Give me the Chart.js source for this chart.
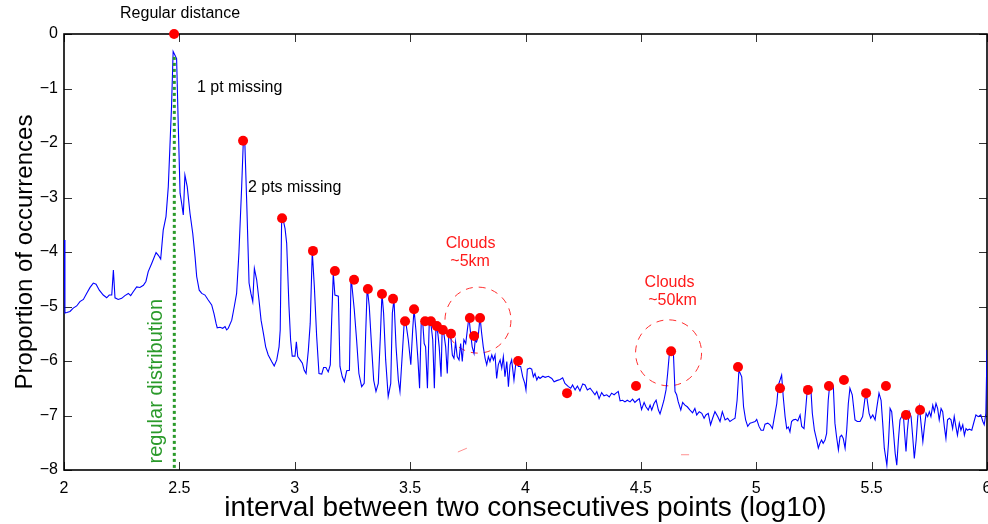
<!DOCTYPE html>
<html><head><meta charset="utf-8">
<script src="https://cdn.jsdelivr.net/npm/chart.js@4.4.0/dist/chart.umd.min.js"></script>
<style>html,body{margin:0;padding:0;background:#fff;}</style>
</head><body>
<canvas id="c" width="988" height="524"></canvas>
<script>
// ---- data ----
const xs = [2.000,2.004,2.012,2.026,2.040,2.055,2.069,2.084,2.098,2.113,2.127,2.139,2.153,2.170,2.185,2.196,2.207,2.214,2.221,2.235,2.250,2.264,2.279,2.289,2.300,2.315,2.329,2.344,2.355,2.365,2.380,2.399,2.409,2.419,2.430,2.442,2.452,2.459,2.466,2.473,2.481,2.488,2.495,2.503,2.510,2.517,2.524,2.534,2.546,2.558,2.568,2.575,2.586,2.597,2.611,2.625,2.640,2.650,2.659,2.664,2.676,2.688,2.698,2.705,2.712,
2.727,2.738,2.748,2.758,2.770,2.777,2.784,2.792,2.802,2.810,2.818,2.825,2.835,2.845,2.854,2.864,2.874,2.885,2.900,2.911,2.922,2.932,2.937,2.943,2.950,2.958,2.965,2.975,2.982,2.989,3.001,3.007,3.013,3.023,3.033,3.041,3.049,3.059,3.067,3.076,3.085,3.095,3.105,3.117,3.125,3.135,3.145,3.154,3.160,3.167,3.174,3.189,3.196,3.206,3.215,3.225,3.237,3.244,3.258,3.268,3.278,3.290,3.301,3.307,3.314,3.323,3.333,3.342,3.352,3.362,3.371,3.378,3.385,3.394,3.405,3.416,3.423,3.430,
3.439,3.449,3.456,3.468,3.475,3.482,3.492,3.503,3.511,3.517,3.525,3.534,3.541,3.548,3.554,3.561,3.567,3.575,3.583,3.590,3.598,3.605,3.612,3.620,3.626,3.634,3.639,3.647,3.654,3.661,3.668,3.676,3.683,3.690,3.697,3.704,3.712,3.719,3.726,3.733,3.741,3.748,3.755,3.762,3.769,3.777,3.782,3.788,3.795,3.803,3.810,3.817,3.825,3.832,3.839,3.846,3.854,3.861,3.868,3.875,3.882,3.890,3.897,3.904,3.911,3.919,3.926,3.933,3.940,3.950,3.959,3.969,3.979,3.988,3.997,4.002,4.008,4.019,4.027,4.034,4.041,4.049,4.056,4.063,4.075,4.085,4.099,4.114,4.124,4.135,
4.150,4.161,4.171,4.186,4.196,4.204,4.215,4.225,4.236,4.248,4.258,4.268,4.280,4.291,4.301,4.309,4.319,4.330,4.340,4.352,4.363,4.373,4.384,4.395,4.402,4.410,4.421,4.431,4.441,4.453,4.464,4.474,4.484,4.493,4.503,4.514,4.522,4.532,4.540,4.547,4.557,4.566,4.576,4.583,4.592,4.600,4.609,4.616,4.623,4.634,4.641,4.648,4.655,4.662,4.673,4.681,4.691,4.701,4.713,4.724,4.734,4.742,4.753,4.764,4.774,4.782,4.792,4.802,4.811,4.821,
4.833,4.843,4.853,4.865,4.876,4.886,4.896,4.908,4.917,4.925,4.937,4.945,4.954,4.963,4.973,4.983,4.995,5.002,5.012,5.021,5.031,5.038,5.050,5.060,5.070,5.079,5.089,5.096,5.103,5.110,5.117,5.125,5.132,5.139,5.146,5.153,5.161,5.171,5.180,5.190,5.197,5.207,5.214,5.221,5.229,5.237,5.243,5.252,5.262,5.269,5.276,5.283,5.290,5.298,5.305,5.312,5.319,5.327,5.334,5.341,5.348,5.356,5.363,5.370,5.377,5.385,5.392,5.399,5.406,5.416,
5.428,5.438,5.450,5.461,5.471,5.479,5.489,5.496,5.505,5.515,5.522,5.532,5.541,5.548,5.555,5.566,5.573,5.580,5.587,5.594,5.602,5.609,5.616,5.623,5.630,5.637,5.643,5.649,5.655,5.663,5.671,5.678,5.685,5.693,5.700,5.707,5.714,5.722,5.729,5.736,5.743,5.750,5.757,5.765,5.772,5.779,5.786,5.793,5.801,5.808,5.815,5.822,5.829,5.837,5.844,5.851,5.858,5.865,5.872,5.880,5.887,5.895,5.902,5.909,5.916,5.923,5.934,5.944,5.952,5.962,5.973,5.982,5.988,5.995,6.000];
const ys = [-3.78,-5.12,-5.11,-5.09,-5.03,-4.99,-4.91,-4.87,-4.76,-4.65,-4.57,-4.59,-4.70,-4.79,-4.84,-4.79,-4.79,-4.33,-4.84,-4.87,-4.85,-4.80,-4.76,-4.80,-4.73,-4.64,-4.65,-4.61,-4.54,-4.36,-4.21,-4.01,-4.06,-4.13,-3.60,-3.35,-2.80,-2.07,-1.33,-0.32,-0.39,-0.45,-1.64,-2.92,-3.11,-3.32,-2.59,-2.80,-3.29,-3.66,-4.09,-4.45,-4.70,-4.76,-4.79,-4.88,-4.97,-5.13,-5.31,-5.39,-5.38,-5.40,-5.37,-5.43,-5.40,
-5.25,-5.00,-4.76,-4.02,-2.80,-1.98,-2.04,-3.11,-4.57,-4.76,-4.91,-4.30,-4.51,-4.88,-5.25,-5.49,-5.74,-5.89,-6.01,-6.09,-5.98,-5.74,-5.43,-3.47,-3.41,-3.57,-3.84,-5.00,-5.61,-5.91,-5.91,-5.65,-5.92,-5.98,-6.04,-6.17,-6.23,-5.80,-5.31,-3.99,-4.64,-5.55,-6.23,-6.24,-6.12,-6.12,-6.20,-6.07,-5.25,-4.39,-4.79,-4.81,-6.10,-6.29,-6.38,-6.18,-6.17,-4.45,-5.06,-5.61,-6.23,-6.47,-6.41,-5.55,-4.64,-5.00,-5.74,-6.35,-6.56,-6.41,-5.55,-4.76,-5.12,-5.98,-6.65,-6.41,-5.12,-4.87,
-5.74,-6.35,-6.56,-5.74,-5.25,-5.31,-5.61,-6.07,-5.43,-5.05,-5.43,-5.98,-6.50,-5.31,-5.25,-5.68,-5.74,-6.50,-5.28,-5.31,-5.61,-6.50,-5.37,-5.49,-5.74,-6.29,-5.40,-5.52,-5.74,-6.23,-5.49,-5.55,-5.89,-5.95,-5.65,-5.92,-5.98,-5.68,-6.01,-5.61,-5.68,-5.43,-5.19,-5.49,-5.74,-5.86,-5.61,-5.65,-5.55,-5.19,-5.49,-5.74,-5.95,-6.07,-5.92,-6.01,-5.89,-5.98,-5.89,-6.32,-6.07,-5.98,-6.13,-5.92,-6.29,-6.01,-6.47,-6.07,-5.98,-6.35,-6.01,-6.10,-6.10,-6.29,-6.41,-6.53,-6.15,-6.13,-6.15,-6.29,-6.23,-6.35,-6.29,-6.32,-6.28,-6.30,-6.28,-6.32,-6.38,-6.36,
-6.34,-6.31,-6.41,-6.47,-6.50,-6.44,-6.53,-6.46,-6.55,-6.42,-6.44,-6.53,-6.50,-6.56,-6.62,-6.56,-6.69,-6.58,-6.64,-6.62,-6.66,-6.59,-6.62,-6.58,-6.56,-6.73,-6.72,-6.75,-6.72,-6.75,-6.70,-6.76,-6.72,-6.69,-6.89,-6.76,-6.84,-6.90,-6.81,-6.90,-6.78,-6.72,-6.90,-6.97,-6.84,-6.72,-6.53,-6.23,-5.89,-5.79,-5.86,-6.56,-6.62,-6.75,-6.90,-6.76,-6.81,-6.84,-6.90,-6.95,-6.87,-6.99,-6.93,-6.96,-7.05,-6.99,-6.96,-7.17,-7.05,-6.93,
-7.02,-7.11,-6.93,-7.08,-7.05,-7.11,-7.08,-7.05,-6.72,-6.17,-6.29,-6.84,-7.08,-7.20,-7.14,-7.13,-7.11,-7.07,-7.20,-7.27,-7.27,-7.16,-7.14,-7.17,-7.24,-7.02,-6.78,-6.44,-6.35,-6.26,-6.66,-7.02,-7.24,-7.21,-7.30,-7.11,-7.08,-7.07,-7.10,-6.99,-7.20,-7.24,-6.90,-6.53,-6.46,-6.53,-6.96,-7.27,-7.45,-7.60,-7.51,-7.45,-7.51,-7.45,-7.33,-6.72,-6.41,-6.41,-6.47,-7.14,-7.39,-7.63,-7.39,-7.36,-7.42,-7.60,-7.27,-6.78,-6.50,-6.62,
-7.08,-7.11,-7.11,-7.02,-6.69,-6.66,-6.96,-7.05,-6.99,-7.08,-6.87,-6.59,-6.72,-7.14,-7.60,-7.91,-7.51,-6.87,-6.93,-7.27,-7.69,-7.91,-7.45,-7.08,-7.02,-6.96,-7.33,-7.66,-7.27,-6.93,-7.02,-7.39,-7.79,-7.45,-7.02,-6.84,-7.14,-7.48,-7.20,-6.96,-7.02,-6.93,-7.02,-6.81,-6.93,-6.78,-6.87,-7.08,-6.87,-6.93,-7.20,-7.42,-7.08,-7.05,-7.08,-7.24,-7.02,-7.20,-7.36,-7.14,-7.27,-7.17,-7.36,-7.24,-7.27,-7.25,-7.27,-7.11,-6.99,-7.02,-6.99,-7.11,-7.17,-6.96,-5.80];
const peakX = [2.477,2.776,2.945,3.079,3.174,3.257,3.317,3.378,3.426,3.478,3.517,3.565,3.590,3.616,3.642,3.677,3.759,3.777,3.803,3.968,4.180,4.479,4.631,4.921,5.103,5.224,5.315,5.380,5.476,5.562,5.649,5.710];
const peakY = [0.00,-1.96,-3.38,-3.98,-4.35,-4.51,-4.68,-4.77,-4.86,-5.27,-5.05,-5.27,-5.27,-5.36,-5.43,-5.50,-5.21,-5.54,-5.21,-6.00,-6.59,-6.46,-5.82,-6.11,-6.50,-6.53,-6.46,-6.35,-6.59,-6.46,-6.99,-6.90];
const refX = [2.478, 2.478];
const refY = [-0.42, -8];
const xTicks = [2, 2.5, 3, 3.5, 4, 4.5, 5, 5.5, 6];
const yTicks = [0, -1, -2, -3, -4, -5, -6, -7, -8];

// ---- annotations (data coordinates) ----
const notes = [
  {t:'Regular distance', x:2.503, y:0.37, c:'#000', a:'center'},
  {t:'1 pt missing', x:2.576, y:-0.99, c:'#000', a:'left'},
  {t:'2 pts missing', x:2.797, y:-2.81, c:'#000', a:'left'},
  {t:'Clouds', x:3.762, y:-3.84, c:'#ff1a1a', a:'center'},
  {t:'~5km', x:3.760, y:-4.18, c:'#ff1a1a', a:'center'},
  {t:'Clouds', x:4.624, y:-4.57, c:'#ff1a1a', a:'center'},
  {t:'~50km', x:4.637, y:-4.89, c:'#ff1a1a', a:'center'}
];
const rings = [{x:3.794, y:-5.25, r:33}, {x:4.620, y:-5.85, r:33}];
const strays = [[3.707, -7.67, 3.746, -7.60], [4.674, -7.72, 4.709, -7.72]];
const FONT = '"Liberation Sans", Arial, sans-serif';

const decor = {
  id: 'decor',
  beforeDatasetsDraw(chart) {
    const {ctx, chartArea: a, scales: {x, y}} = chart;
    ctx.save();
    ctx.strokeStyle = '#ff3030'; ctx.lineWidth = 1; ctx.setLineDash([7, 6]);
    rings.forEach(r => { ctx.beginPath(); ctx.arc(x.getPixelForValue(r.x), y.getPixelForValue(r.y), r.r, 0, Math.PI * 2); ctx.stroke(); });
    ctx.setLineDash([]);
    ctx.strokeStyle = '#ff9090';
    strays.forEach(s => { ctx.beginPath(); ctx.moveTo(x.getPixelForValue(s[0]), y.getPixelForValue(s[1])); ctx.lineTo(x.getPixelForValue(s[2]), y.getPixelForValue(s[3])); ctx.stroke(); });
    ctx.strokeStyle = '#333'; ctx.lineWidth = 1;
    ctx.beginPath();
    xTicks.forEach(v => { const p = Math.round(x.getPixelForValue(v)) + 0.5;
      ctx.moveTo(p, a.bottom); ctx.lineTo(p, a.bottom - 8); ctx.moveTo(p, a.top); ctx.lineTo(p, a.top + 8); });
    yTicks.forEach(v => { const p = Math.round(y.getPixelForValue(v)) + 0.5;
      ctx.moveTo(a.left, p); ctx.lineTo(a.left + 8, p); ctx.moveTo(a.right, p); ctx.lineTo(a.right - 8, p); });
    ctx.stroke();
    ctx.strokeStyle = '#000'; ctx.lineWidth = 1.6;
    ctx.strokeRect(a.left, a.top, a.right - a.left, a.bottom - a.top);
    ctx.restore();
  },
  afterDraw(chart) {
    const {ctx, scales: {x, y}} = chart;
    ctx.save();
    ctx.textBaseline = 'middle';
    ctx.font = '16px ' + FONT;
    notes.forEach(n => { ctx.fillStyle = n.c; ctx.textAlign = n.a;
      ctx.fillText(n.t, x.getPixelForValue(n.x), y.getPixelForValue(n.y)); });
    ctx.translate(x.getPixelForValue(2.399), y.getPixelForValue(-6.37));
    ctx.rotate(-Math.PI / 2);
    ctx.font = '20px ' + FONT; ctx.fillStyle = '#2a9a2a'; ctx.textAlign = 'center';
    ctx.fillText('regular distribution', 0, 0);
    ctx.restore();
  }
};

new Chart(document.getElementById('c'), {
  type: 'scatter',
  data: {
    datasets: [
      {type: 'scatter', data: peakX.map((v, i) => ({x: v, y: peakY[i]})), backgroundColor: '#ff0000', borderWidth: 0, pointRadius: 5, clip: false, order: 0},
      {type: 'line', data: refX.map((v, i) => ({x: v, y: refY[i]})), borderColor: '#2a9a2a', borderWidth: 3, borderDash: [3, 3], pointRadius: 0, order: 1},
      {type: 'line', data: xs.map((v, i) => ({x: v, y: ys[i]})), borderColor: '#0000ff', borderWidth: 1.1, pointRadius: 0, tension: 0, order: 2}
    ]
  },
  options: {
    responsive: false, animation: false, devicePixelRatio: 1,
    layout: {autoPadding: false, padding: {top: 34, right: 1, left: 0, bottom: 0}},
    plugins: {legend: {display: false}, tooltip: {enabled: false}},
    scales: {
      x: {type: 'linear', min: 2, max: 6,
        afterBuildTicks: s => { s.ticks = xTicks.map(v => ({value: v})); },
        afterFit: s => { s.height = 54; s.paddingLeft = 0; s.paddingRight = 0; },
        grid: {display: false, tickLength: 0}, border: {display: false},
        ticks: {color: '#000', font: {family: FONT, size: 16}, padding: 9, maxRotation: 0, callback: v => String(v)},
        title: {display: true, text: 'interval between two consecutives points (log10)', color: '#000', font: {family: FONT, size: 28}, padding: {top: 0, bottom: -1}}
      },
      y: {type: 'linear', min: -8, max: 0,
        afterBuildTicks: s => { s.ticks = yTicks.map(v => ({value: v})); },
        afterFit: s => { s.width = 64; s.paddingTop = 0; s.paddingBottom = 0; },
        grid: {display: false, tickLength: 0}, border: {display: false},
        ticks: {color: '#000', font: {family: FONT, size: 16}, padding: 6, callback: v => v < 0 ? '\u2212' + Math.abs(v) : String(v)},
        title: {display: true, text: 'Proportion of occurrences', color: '#000', font: {family: FONT, size: 24}, padding: {top: 11, bottom: 0}}
      }
    }
  },
  plugins: [decor]
});
</script>
</body></html>
